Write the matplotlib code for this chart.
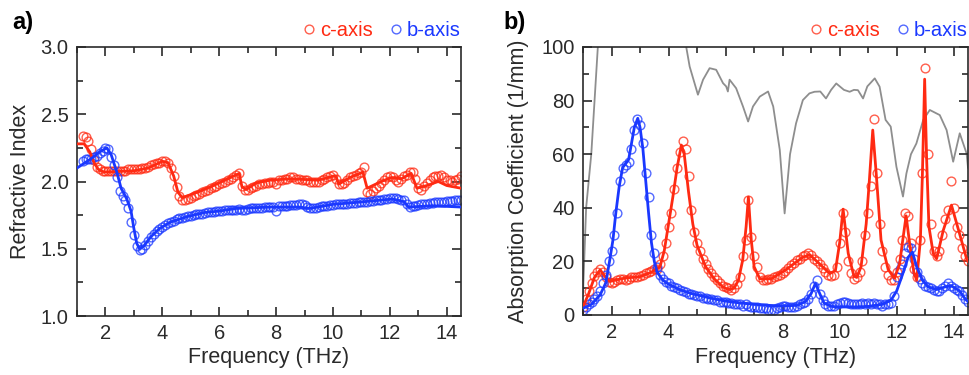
import numpy as np
import matplotlib
matplotlib.use("Agg")
import matplotlib.pyplot as plt
from matplotlib.ticker import MultipleLocator

plt.rcParams["font.family"] = ["Liberation Sans", "DejaVu Sans"]

RED = "#ff2a12"
BLUE = "#1a38ff"
GRAY = "#8e8e8e"
DARK = "#2a2a2a"

# a) refractive index, measured points every 0.1 THz starting at 1.2 THz
n_start = 1.2
n_c_points = [
    2.34, 2.33, 2.30, 2.24, 2.16, 2.11, 2.09, 2.08, 2.08, 2.08,
    2.08, 2.08, 2.08, 2.08, 2.08, 2.08, 2.09, 2.09, 2.09, 2.09,
    2.09, 2.10, 2.10, 2.11, 2.12, 2.13, 2.14, 2.14, 2.15, 2.15,
    2.14, 2.10, 2.04, 1.96, 1.89, 1.86, 1.86, 1.87, 1.88, 1.89,
    1.90, 1.91, 1.92, 1.93, 1.94, 1.95, 1.96, 1.97, 1.98, 1.99,
    2.00, 2.01, 2.02, 2.03, 2.05, 2.06, 1.97, 1.94, 1.94, 1.95,
    1.96, 1.97, 1.98, 1.98, 1.99, 1.99, 2.00, 2.00, 1.98, 2.01,
    2.01, 2.02, 2.02, 2.03, 2.03, 2.02, 2.02, 2.01, 2.01, 2.01,
    2.00, 2.00, 2.00, 2.00, 2.01, 2.02, 2.03, 2.04, 2.05, 2.02,
    1.98, 1.98, 1.99, 2.01, 2.03, 2.04, 2.05, 2.06, 2.07, 2.11,
    1.92, 1.91, 1.93, 1.95, 1.97, 1.99, 2.01, 2.03, 2.04, 2.03,
    2.01, 2.00, 2.02, 2.04, 2.05, 2.07, 2.07, 2.02, 1.95, 1.94,
    1.97, 1.99, 2.01, 2.03, 2.04, 2.04, 2.05, 2.03, 2.01, 2.01,
    2.00, 2.01, 2.02, 2.04,
]
n_b_points = [
    2.15, 2.17, 2.17, 2.17, 2.18, 2.19, 2.21, 2.23, 2.25, 2.24,
    2.18, 2.12, 2.03, 1.93, 1.89, 1.86, 1.80, 1.70, 1.60, 1.52,
    1.49, 1.50, 1.53, 1.56, 1.59, 1.61, 1.63, 1.65, 1.66, 1.68,
    1.69, 1.70, 1.71, 1.72, 1.725, 1.73, 1.735, 1.74, 1.745, 1.75,
    1.755, 1.76, 1.76, 1.765, 1.77, 1.77, 1.775, 1.78, 1.78, 1.78,
    1.785, 1.785, 1.79, 1.79, 1.79, 1.795, 1.79, 1.79, 1.795, 1.80,
    1.80, 1.80, 1.805, 1.805, 1.81, 1.81, 1.81, 1.81, 1.78, 1.815,
    1.82, 1.82, 1.82, 1.825, 1.825, 1.825, 1.83, 1.83, 1.825, 1.81,
    1.80, 1.80, 1.805, 1.81, 1.815, 1.82, 1.82, 1.825, 1.825, 1.83,
    1.83, 1.83, 1.835, 1.835, 1.84, 1.84, 1.84, 1.845, 1.845, 1.85,
    1.85, 1.855, 1.855, 1.86, 1.86, 1.865, 1.87, 1.87, 1.875, 1.88,
    1.875, 1.87, 1.865, 1.86, 1.83, 1.81, 1.815, 1.82, 1.825, 1.83,
    1.83, 1.835, 1.84, 1.84, 1.845, 1.845, 1.85, 1.85, 1.855, 1.855,
    1.855, 1.86, 1.86, 1.865,
]

# a) fitted curves
n_c_fit_x = [1.0, 1.25, 1.45, 1.6, 1.75, 1.95, 3.0, 3.5, 4.0, 4.2, 4.4, 4.55,
             4.7, 5.1, 5.7, 6.3, 6.7, 6.8, 6.95, 7.3, 7.8, 8.5, 9.5, 10.0,
             10.1, 10.2, 10.6, 11.05, 11.2, 11.7, 12.05, 12.4, 12.75, 12.95,
             13.3, 13.7, 14.0, 14.5]
n_c_fit_y = [2.28, 2.28, 2.22, 2.14, 2.09, 2.07, 2.08, 2.10, 2.15, 2.14, 2.04,
             1.92, 1.88, 1.91, 1.96, 2.02, 2.06, 1.96, 1.94, 1.99, 2.01, 2.02,
             2.01, 2.04, 2.04, 1.98, 2.03, 2.07, 1.95, 2.00, 2.03, 2.02, 2.06,
             1.95, 1.97, 2.00, 1.97, 1.95]
n_b_fit_x = [1.0, 1.5, 1.8, 2.05, 2.2, 2.4, 2.55, 2.75, 2.9, 3.0, 3.1, 3.2,
             3.35, 3.6, 3.9, 4.3, 4.9, 5.5, 6.0, 6.6, 7.8, 8.8, 9.2, 10.0,
             11.1, 12.1, 12.5, 12.65, 13.5, 14.5]
n_b_fit_y = [2.10, 2.17, 2.22, 2.25, 2.20, 2.07, 1.95, 1.87, 1.78, 1.65, 1.54,
             1.50, 1.52, 1.59, 1.65, 1.70, 1.74, 1.77, 1.78, 1.80, 1.81, 1.81,
             1.80, 1.83, 1.85, 1.87, 1.85, 1.81, 1.82, 1.81]

# b) absorption coefficient, measured points every 0.1 THz starting at 1.0 THz
a_start = 1.0
a_c_points = [
    3, 6, 9, 12, 14.5, 16, 17, 16, 14, 12.5,
    12, 12.5, 13, 13.5, 13.5, 13, 13.5, 14, 14, 14,
    14.5, 15, 15.5, 16, 16.5, 17, 17, 19, 22, 27,
    33, 38, 47, 55, 61, 65, 62, 52, 39, 31,
    27, 24, 21, 19, 17, 15.5, 14, 13, 12, 11,
    10.5, 10, 9.5, 10, 11.5, 14, 22, 28, 43, 29,
    22, 18, 14, 13, 13, 13.5, 13.5, 14, 14.5, 15,
    15.5, 16.5, 17.5, 18.5, 19.5, 20.5, 21, 22, 22.5, 23,
    22.5, 21, 20, 19, 17.5, 16, 15, 14.5, 15, 18,
    27, 38, 31, 20, 15.5, 13.5, 14, 16, 20, 30,
    38, 48, 73, 53, 34, 24, 18, 15, 13, 13,
    16, 21, 28, 38, 37, 27, 17, 14, 28, 53,
    92, 60, 34, 24, 22, 24, 30, 36, 39, 50,
    40, 33, 30, 25, 22, 20,
]
a_b_points = [
    2, 3, 4, 5, 6, 7, 9, 12, 15, 20,
    24, 30, 38, 50, 55, 56, 57, 62, 69, 73,
    71, 64, 53, 44, 30, 23, 18, 15, 13.5, 12.5,
    12, 11, 10.5, 10, 9.5, 9, 8.5, 8, 8, 7.5,
    7, 7, 6.5, 6.5, 6, 6, 5.5, 5.5, 5, 5,
    5, 4.5, 4.5, 4, 4, 4, 3.5, 4, 3.5, 3,
    3, 3, 2.5, 2.5, 2.5, 2, 2, 2, 2.5, 3,
    3.5, 3.5, 3, 3, 3, 3.5, 4, 4.5, 5, 6,
    8, 11, 13, 8, 5.5, 4, 3.5, 3.5, 3.5, 4,
    4.5, 5, 5, 4.5, 4, 4, 4, 4, 4.5, 4,
    4.5, 4, 4.5, 4, 4, 3.5, 4, 4, 4.5, 7,
    14, 17, 19, 23, 25.5, 25, 21, 16, 13.5, 12,
    11, 10.5, 10, 9.5, 9, 9, 10, 11, 12, 11,
    10, 9.5, 9, 7.5, 6, 5,
]

# b) fitted curves
a_c_fit_x = [1.0, 1.2, 1.4, 1.6, 1.8, 1.95, 2.2, 2.5, 3.0, 3.4, 3.7, 3.85,
             4.0, 4.15, 4.3, 4.45, 4.55, 4.7, 4.85, 5.0, 5.3, 5.6, 5.9, 6.1,
             6.3, 6.45, 6.6, 6.72, 6.8, 6.9, 7.0, 7.2, 7.6, 8.1, 8.7, 8.95,
             9.3, 9.65, 9.85, 10.0, 10.12, 10.3, 10.5, 10.6, 10.75, 10.93,
             11.04, 11.16, 11.28, 11.45, 11.7, 11.92, 12.1, 12.2, 12.33,
             12.45, 12.6, 12.7, 12.83, 12.9, 12.98, 13.05, 13.13, 13.28, 13.4,
             13.63, 13.92, 14.2, 14.45, 14.5]
a_c_fit_y = [3, 8, 14, 16.8, 14, 12.5, 13.2, 13.8, 14.3, 16, 18, 24,
             34, 44, 55, 63.4, 60, 46, 34, 26, 18, 13.5, 10.5, 9.5,
             10, 13, 20.5, 33, 44, 28, 18, 13.5, 13.5, 16.8, 21.5, 22.5,
             19, 15.5, 16.5, 27, 39.5, 23, 14.5, 14, 18, 34,
             50, 69, 53, 28, 17, 13.7, 19, 27, 37,
             27, 16, 13, 28, 52, 88, 58, 33, 23, 21,
             31.5, 41, 30.5, 21, 20]
a_b_fit_x = [1.0, 1.3, 1.6, 1.8, 1.93, 2.05, 2.15, 2.27, 2.39, 2.5, 2.6, 2.7,
             2.8, 2.92, 3.0, 3.1, 3.2, 3.3, 3.4, 3.5, 3.6, 3.8, 4.0, 4.4, 4.8,
             5.2, 5.6, 6.0, 6.5, 7.0, 7.5, 8.0, 8.5, 8.8, 9.0, 9.15, 9.3,
             9.45, 9.7, 10.0, 10.5, 11.0, 11.5, 11.8, 12.0, 12.2, 12.4, 12.55,
             12.7, 12.9, 13.1, 13.4, 13.7, 13.9, 14.2, 14.4, 14.5]
a_b_fit_y = [2.5, 4, 7.5, 12, 20, 28, 38, 48, 55, 56.5, 58, 64,
             70, 73.4, 70, 62, 50, 38, 27, 20, 16, 13, 11.5, 9.4, 8,
             7, 6, 5.2, 4.5, 4, 3.6, 3.4, 3.6, 5, 8, 11.8, 8,
             4.5, 3.2, 3, 3, 3.2, 4, 5.5, 9, 15, 21.5, 23.5,
             18, 13, 10.5, 9.5, 10.5, 11, 9, 6, 5]

# b) gray reference trace (goes above 100 between ~1.5 and ~4.6 THz)
ref_x = [1.0, 1.11, 1.29, 1.52, 1.6, 4.5, 4.62, 4.74, 5.03, 5.21, 5.44, 5.67,
         5.91, 6.02, 6.08, 6.14, 6.37, 6.61, 6.79, 6.96, 7.2, 7.49, 7.67, 7.9,
         8.07, 8.26, 8.47, 8.71, 8.94, 9.12, 9.32, 9.52, 9.7, 9.88, 10.15,
         10.35, 10.5, 10.64, 10.82, 10.97, 11.23, 11.4, 11.61, 11.79, 11.99,
         12.22, 12.34, 12.5, 12.69, 12.93, 13.16, 13.51, 13.75, 13.98, 14.21,
         14.45, 14.5]
ref_y = [8, 40, 60, 100, 115, 115, 100, 92.7, 82.2, 87.8, 92.1, 91.5,
         86.5, 85.3, 83.4, 87.8, 84.6, 77.8, 72.2, 77.8, 81.5, 83.4, 77.8, 61.6,
         37.9, 60, 71.5, 80.2, 82.7, 83.3, 83.4, 80.8, 84, 86.4, 84,
         83.3, 84, 83.9, 80.8, 85.3, 88.3, 85.2, 72.8, 70.3, 55.3,
         44.2, 52.8, 60, 64, 72.8, 76.5, 74.6, 69, 57.2, 67.8,
         60.3, 55]


def frequencies(start, values):
    return start + 0.1 * np.arange(len(values))


def style_axes(ax, ymin, ymax, ymajor, yminor):
    ax.set_xlim(1, 14.5)
    ax.set_ylim(ymin, ymax)
    ax.xaxis.set_major_locator(MultipleLocator(2))
    ax.xaxis.set_minor_locator(MultipleLocator(1))
    ax.yaxis.set_major_locator(MultipleLocator(ymajor))
    ax.yaxis.set_minor_locator(MultipleLocator(yminor))
    ax.tick_params(which="both", direction="in", top=True, right=True,
                   width=1.2, color=DARK, labelcolor=DARK, labelsize=14.5, pad=6)
    ax.tick_params(which="major", length=6.5)
    ax.tick_params(which="minor", length=4)
    for spine in ax.spines.values():
        spine.set_linewidth(1.2)
        spine.set_color(DARK)
    ax.set_xlabel("Frequency (THz)", fontsize=15.5, color=DARK, labelpad=3)


def draw_points(ax, x, y, color, label):
    ax.plot(x, y, "o", ms=6.3, mfc="none", mec=color, mew=1.0, alpha=0.75,
            label=label, zorder=2)


def legend(ax):
    ax.legend(loc="lower right", bbox_to_anchor=(1.0, 1.025), ncol=2,
              frameon=False, fontsize=14.5, handlelength=0.5,
              handletextpad=0.3, columnspacing=0.9, borderpad=0,
              borderaxespad=0, labelcolor="markeredgecolor")


fig = plt.figure(figsize=(9.7, 3.75), dpi=100)
ax1 = fig.add_axes([77 / 970, 59 / 375, 384 / 970, 269 / 375])
ax2 = fig.add_axes([583 / 970, 60 / 375, 385 / 970, 268 / 375])

# a) refractive index
draw_points(ax1, frequencies(n_start, n_c_points), n_c_points, RED, "c-axis")
draw_points(ax1, frequencies(n_start, n_b_points), n_b_points, BLUE, "b-axis")
ax1.plot(n_c_fit_x, n_c_fit_y, color=RED, lw=2, zorder=3)
ax1.plot(n_b_fit_x, n_b_fit_y, color=BLUE, lw=2, zorder=3)
style_axes(ax1, 1.0, 3.0, 0.5, 0.25)
ax1.yaxis.set_major_formatter(matplotlib.ticker.FormatStrFormatter("%.1f"))
ax1.set_ylabel("Refractive Index", fontsize=15.5, color=DARK, labelpad=7)
legend(ax1)

# b) absorption coefficient
ax2.plot(ref_x, ref_y, color=GRAY, lw=1.3, zorder=1)
draw_points(ax2, frequencies(a_start, a_c_points), a_c_points, RED, "c-axis")
draw_points(ax2, frequencies(a_start, a_b_points), a_b_points, BLUE, "b-axis")
ax2.plot(a_c_fit_x, a_c_fit_y, color=RED, lw=2, zorder=3)
ax2.plot(a_b_fit_x, a_b_fit_y, color=BLUE, lw=2, zorder=3)
style_axes(ax2, 0, 100, 20, 10)
ax2.set_ylabel("Absorption Coefficient (1/mm)", fontsize=15.5, color=DARK,
               labelpad=9)
legend(ax2)

fig.text(12 / 970, 1 - 23 / 375, "a)", fontsize=17, fontweight="bold",
         va="center", ha="left", color="black")
fig.text(503 / 970, 1 - 22 / 375, "b)", fontsize=17, fontweight="bold",
         va="center", ha="left", color="black")

fig.savefig("out.png", dpi=100)
